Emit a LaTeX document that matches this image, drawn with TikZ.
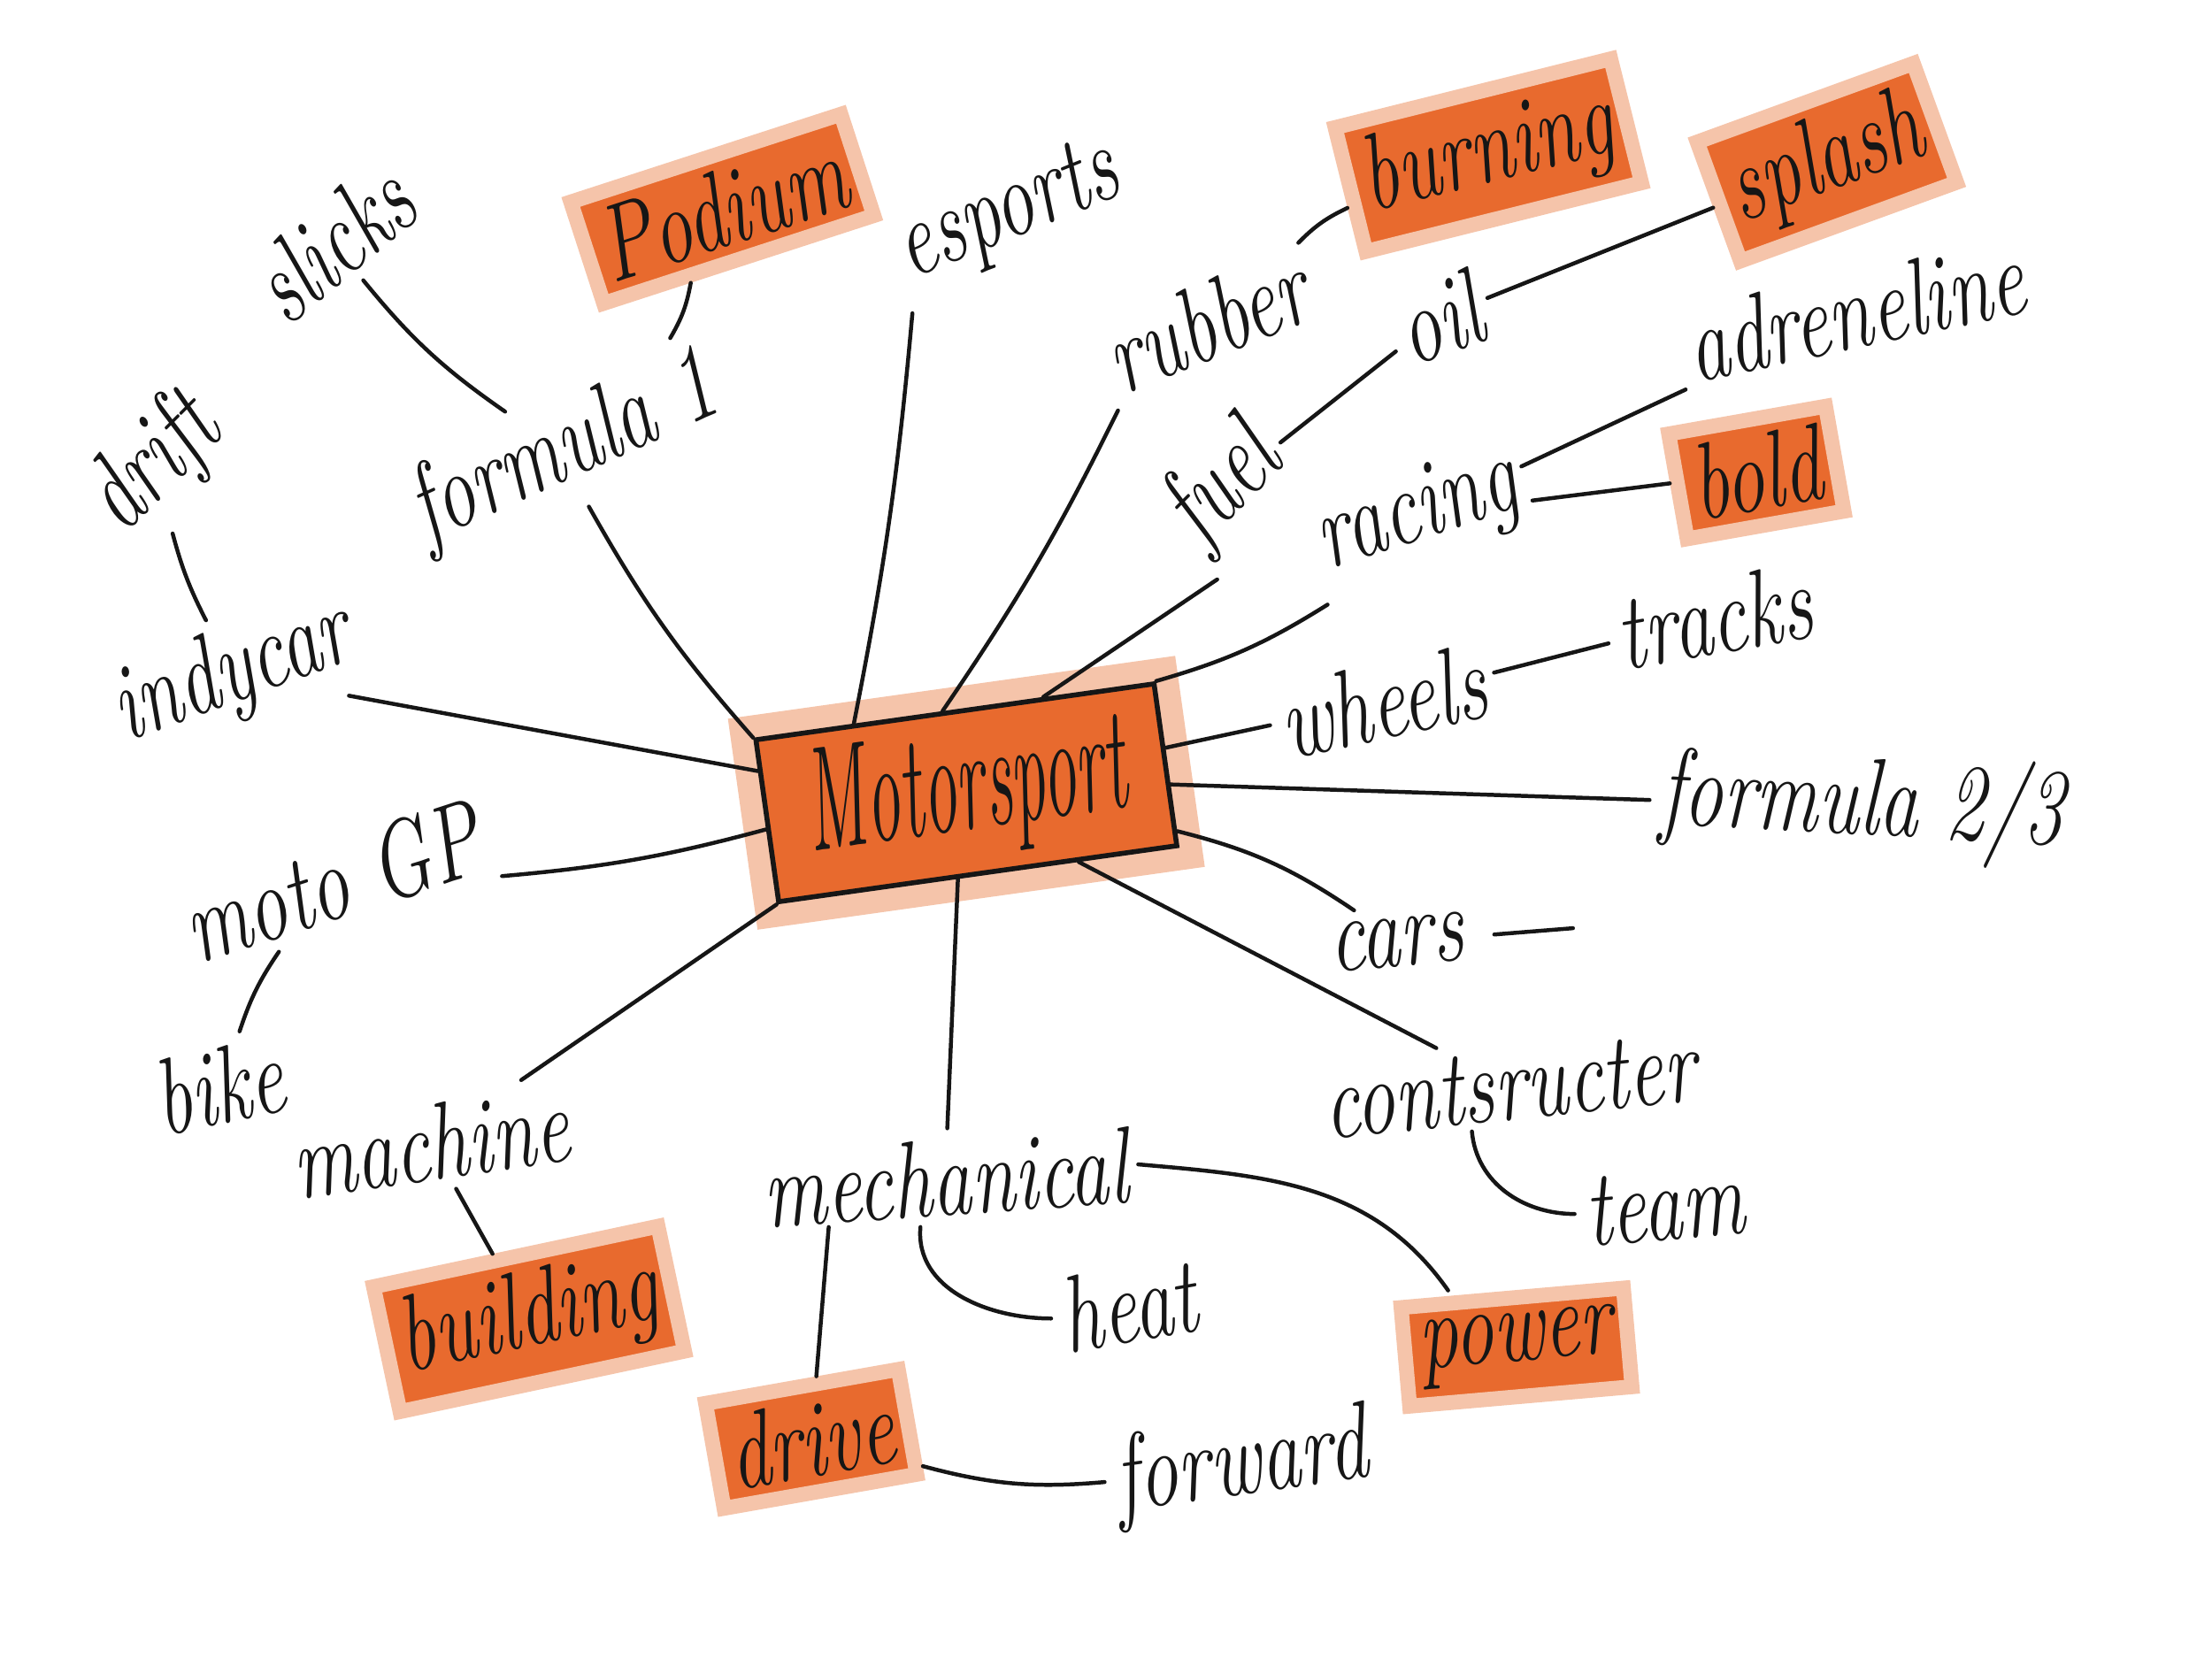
\documentclass[tikz,border=0pt]{standalone}
\usepackage{tikz}
\usetikzlibrary{calc,positioning}
\definecolor{mapOrange}{RGB}{232,106,46}
\definecolor{mapOrangeLight}{RGB}{245,196,170}
\definecolor{inkBlack}{RGB}{22,22,22}
\newcommand{\handw}[1]{\scalebox{0.72}[1]{#1}}

\begin{document}
\begin{tikzpicture}[
    word/.style={font=\fontsize{22}{24}\selectfont\itshape, text=inkBlack, inner sep=2pt},
    hl/.style={word, fill=mapOrange, draw=mapOrangeLight, line width=3pt, inner sep=3pt},
    link/.style={draw=inkBlack, line width=0.8pt, line cap=round},
    hub/.style={draw=inkBlack, line width=1pt, fill=mapOrange,
        preaction={draw=mapOrangeLight, line width=10pt},
        minimum width=2.85cm, minimum height=0.95cm, text=inkBlack,
        font=\fontsize{30}{32}\selectfont\itshape}
]
    \useasboundingbox (0,0) rectangle (15.68,-11.75);

    % centre
    \node[hub, rotate=8] (motor) at (6.85,-5.62) {\scalebox{0.46}[1]{Motorsport}};

    % first ring
    \node[word, rotate=24] (formula1) at (4.0,-3.2) {\handw{formula 1}};
    \node[word, rotate=22] (esports) at (7.15,-1.52) {\handw{esports}};
    \node[word, rotate=22] (rubber) at (8.55,-2.28) {\handw{rubber}};
    \node[word, rotate=45] (fuel) at (8.68,-3.45) {\handw{fuel}};
    \node[word, rotate=18] (racing) at (10.05,-3.65) {\handw{racing}};
    \node[word, rotate=12] (wheels) at (9.8,-4.97) {\handw{wheels}};
    \node[word, rotate=-3] (formula23) at (13.2,-5.72) {\handw{formula 2/3}};
    \node[word, rotate=5] (cars) at (9.9,-6.68) {\handw{cars}};
    \node[word, rotate=6] (constr) at (10.7,-7.7) {\handw{contsructer}};
    \node[word, rotate=4] (mech) at (6.7,-8.35) {\handw{mechanical}};
    \node[word, rotate=8] (machine) at (3.05,-8.1) {\handw{machine}};
    \node[word, rotate=18] (motogp) at (2.35,-6.25) {\handw{moto GP}};
    \node[word, rotate=20] (indycar) at (1.65,-4.78) {\handw{indycar}};

    % second ring
    \node[word, rotate=40] (slicks) at (2.35,-1.72) {\handw{slicks}};
    \node[word, rotate=45] (drift) at (1.1,-3.3) {\handw{drift}};
    \node[hl, rotate=18] (podium) at (5.12,-1.48) {\handw{Podium}};
    \node[hl, rotate=14] (burning) at (10.55,-1.1) {\handw{burning}};
    \node[word, rotate=20] (oil) at (10.2,-2.25) {\handw{oil}};
    \node[hl, rotate=20] (splash) at (12.95,-1.15) {\handw{splash}};
    \node[word, rotate=12] (adrenaline) at (13.15,-2.2) {\handw{adreneline}};
    \node[hl, rotate=10] (bold) at (12.45,-3.35) {\handw{bold}};
    \node[word, rotate=10] (tracks) at (12.15,-4.37) {\handw{tracks}};
    \node[word, rotate=5] (team) at (11.8,-8.55) {\handw{team}};
    \node[hl, rotate=5] (power) at (10.75,-9.55) {\handw{power}};
    \node[word, rotate=10] (heat) at (8.0,-9.25) {\handw{heat}};
    \node[hl, rotate=10] (drive) at (5.75,-10.2) {\handw{drive}};
    \node[word, rotate=8] (forward) at (8.8,-10.4) {\handw{forward}};
    \node[hl, rotate=12] (building) at (3.75,-9.35) {\handw{building}};
    \node[word, rotate=12] (bike) at (1.55,-7.7) {\handw{bike}};
    \coordinate (carsend) at (11.15,-6.58);

    % links from the centre
    \draw[link] (motor.north west) to[bend left=6] (formula1.south);
    \draw[link] ($(motor.north west)!0.25!(motor.north east)$) to[bend right=3] (esports.south west);
    \draw[link] ($(motor.north west)!0.47!(motor.north east)$) to[bend right=4] (rubber.south west);
    \draw[link] ($(motor.north west)!0.72!(motor.north east)$) -- (fuel.south west);
    \draw[link] (motor.north east) to[bend right=8] (racing.south west);
    \draw[link] ($(motor.north east)!0.4!(motor.south east)$) -- (wheels);
    \draw[link] ($(motor.north east)!0.62!(motor.south east)$) -- (formula23);
    \draw[link] ($(motor.north east)!0.9!(motor.south east)$) to[bend left=10] (cars);
    \draw[link] ($(motor.south west)!0.75!(motor.south east)$) -- (constr);
    \draw[link] ($(motor.south west)!0.45!(motor.south east)$) -- (mech);
    \draw[link] (motor.south west) -- (machine);
    \draw[link] ($(motor.north west)!0.55!(motor.south west)$) to[bend left=5] (motogp);
    \draw[link] ($(motor.north west)!0.2!(motor.south west)$) -- (indycar);

    % outer links
    \draw[link] (formula1) to[bend left=8] (slicks);
    \draw[link] (formula1) to[bend right=10] (podium);
    \draw[link] (indycar) to[bend left=6] (drift);
    \draw[link] (rubber) to[bend left=10] (burning);
    \draw[link] (fuel) -- (oil);
    \draw[link] (oil) -- (splash);
    \draw[link] (racing) -- (adrenaline);
    \draw[link] (racing) -- (bold);
    \draw[link] (wheels) -- (tracks);
    \draw[link, shorten <=4pt] (cars) -- (carsend);
    \draw[link] ([xshift=-0.3cm]constr.south) to[out=-85,in=180] (team.west);
    \draw[link] (mech.east) to[out=-5,in=125] ([xshift=-0.45cm]power.north);
    \draw[link] ([xshift=-0.2cm]mech.south) to[out=-95,in=180] (heat.west);
    \draw[link] ([xshift=-0.85cm]mech.south) -- (drive);
    \draw[link] (drive) to[bend right=10] (forward);
    \draw[link] (machine) -- (building);
    \draw[link] (motogp) to[bend right=8] (bike);
\end{tikzpicture}
\end{document}
